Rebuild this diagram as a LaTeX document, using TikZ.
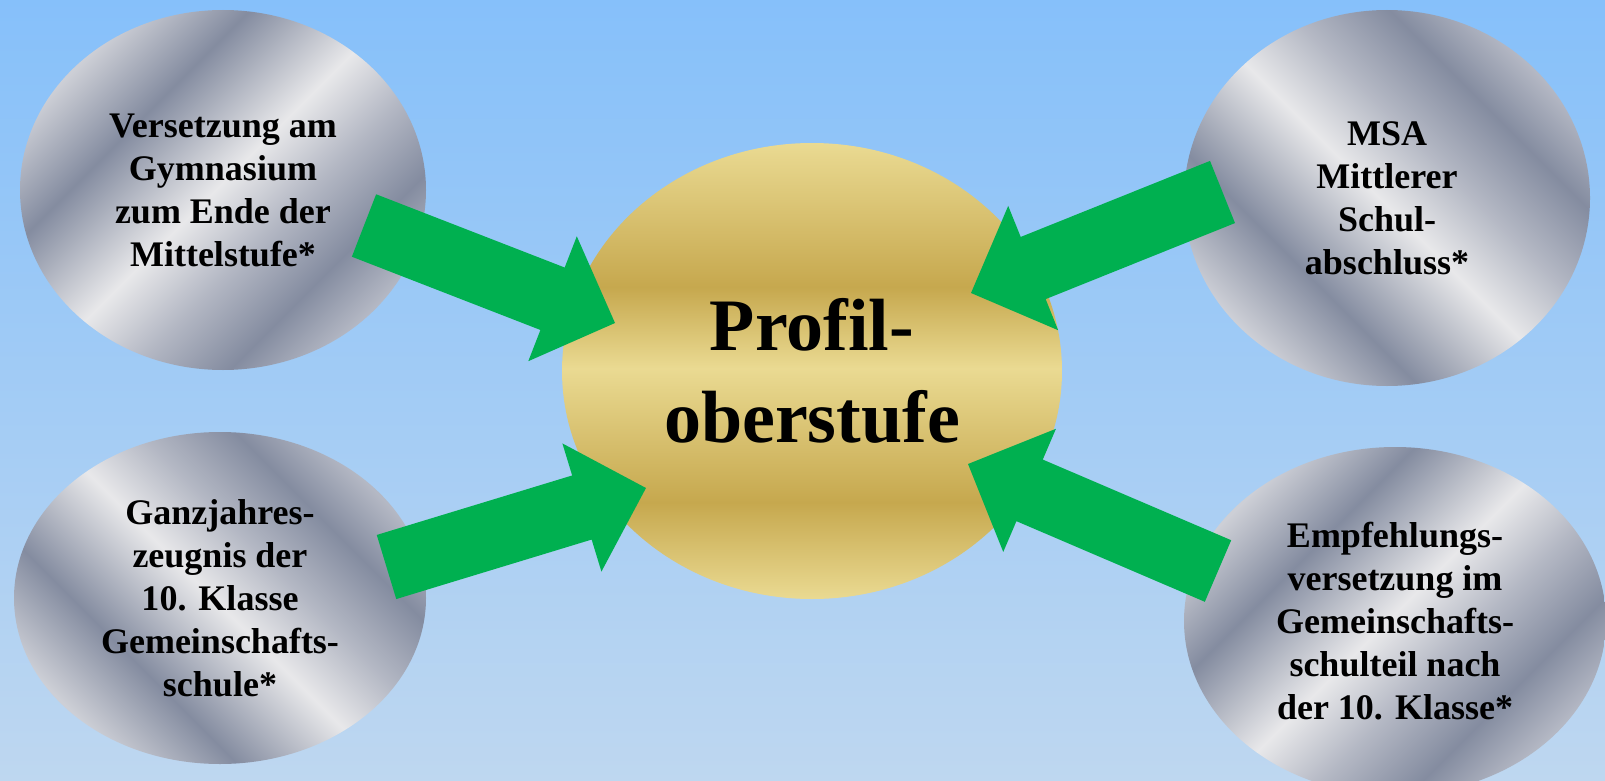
\documentclass[tikz,border=0pt]{standalone}
\usepackage{fontspec}
\setmainfont{Liberation Serif}
\usetikzlibrary{shapes.geometric,calc}
\definecolor{bgtop}{RGB}{134,192,250}
\definecolor{bgbot}{RGB}{190,215,240}
\definecolor{goldL}{RGB}{234,218,146}
\definecolor{goldD}{RGB}{198,168,78}
\definecolor{arrowgreen}{RGB}{0,176,80}
\definecolor{silA}{RGB}{205,207,214}
\definecolor{silD}{RGB}{132,140,160}
\definecolor{silL}{RGB}{232,232,234}
\definecolor{silM}{RGB}{180,184,196}
\pgfdeclareverticalshading{goldshade}{100bp}{color(0bp)=(goldL); color(25bp)=(goldL); color(35.6bp)=(goldD); color(50.3bp)=(goldL); color(59.2bp)=(goldD); color(75bp)=(goldL); color(100bp)=(goldL)}
\pgfdeclarehorizontalshading{silvershade}{100bp}{color(0bp)=(silA); color(25bp)=(silA); color(35.8bp)=(silD); color(49.3bp)=(silL); color(58bp)=(silM); color(67.3bp)=(silD); color(75bp)=(silM); color(100bp)=(silM)}
\newcommand\blockarrow[2]{%
  \coordinate (#1h) at ($(#2)!67pt!(#1)$);
  \fill[arrowgreen] ($(#1)!33.5pt!90:(#2)$) -- ($(#1h)!33.5pt!90:(#2)$) -- ($(#1h)!67pt!90:(#2)$) -- (#2)
    -- ($(#1h)!67pt!-90:(#2)$) -- ($(#1h)!33.5pt!-90:(#2)$) -- ($(#1)!33.5pt!-90:(#2)$) -- cycle;}
\tikzset{
  silvernode/.style={ellipse, inner sep=0pt, shade, shading=silvershade, align=center,
    font=\fontsize{36}{43}\selectfont\bfseries},
  goldnode/.style={ellipse, inner sep=0pt, shade, shading=goldshade, align=center,
    font=\fontsize{74}{92}\selectfont\bfseries}
}
\begin{document}
\begin{tikzpicture}[x=1pt,y=-1pt]
\useasboundingbox (0,0) rectangle (1605,781);
\clip (0,0) rectangle (1605,781);
\fill[top color=bgtop, bottom color=bgbot] (0,0) rectangle (1605,781);
\node[silvernode, shading angle=-45, minimum width=406pt, minimum height=360pt] (e1) at (223,190)
  {Versetzung am\\Gymnasium\\zum Ende der\\Mittelstufe*};
\node[silvernode, shading angle=45, minimum width=412pt, minimum height=332pt] (e2) at (220,598)
  {Ganzjahres-\\zeugnis der\\10. Klasse\\Gemeinschafts-\\schule*};
\node[silvernode, shading angle=45, minimum width=406pt, minimum height=376pt] (e3) at (1387,198)
  {MSA\\Mittlerer\\Schul-\\abschluss*};
\node[silvernode, shading angle=-45, minimum width=422pt, minimum height=348pt] (e4) at (1395,621)
  {Empfehlungs-\\versetzung im\\Gemeinschafts-\\schulteil nach\\der 10. Klasse*};
\node[goldnode, minimum width=500pt, minimum height=456pt] (c) at (812,371) {Profil-\\oberstufe};
\coordinate (t1) at (364,225.5); \coordinate (p1) at (615,323);
\coordinate (t2) at (386.5,567); \coordinate (p2) at (646,488);
\coordinate (t3) at (1222.5,192); \coordinate (p3) at (971,293);
\coordinate (t4) at (1218,571); \coordinate (p4) at (968,464);
\blockarrow{t1}{p1}
\blockarrow{t2}{p2}
\blockarrow{t3}{p3}
\blockarrow{t4}{p4}
\end{tikzpicture}
\end{document}
